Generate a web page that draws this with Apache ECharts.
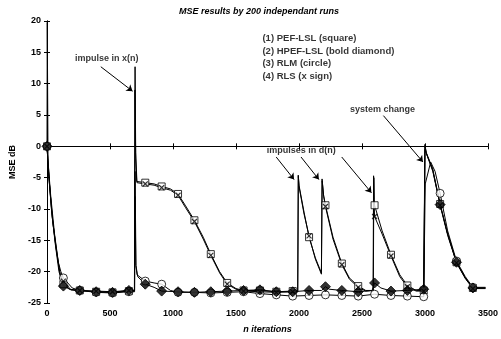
<!DOCTYPE html>
<html>
<head>
<meta charset="utf-8">
<script src="https://cdn.jsdelivr.net/npm/echarts@6/dist/echarts.min.js"></script>
<style>html,body{margin:0;padding:0;background:#fff}#chart{width:501px;height:339px}</style>
</head>
<body>
<div id="chart"></div>
<script>
// iterations where markers are drawn
var markIter = [0,130,260,390,520,650,780,910,1040,1170,1300,1430,1560,1690,1820,1950,2080,2210,2340,2470,2600,2730,2860,2990,3120,3250,3380];

// MSE (dB) at the marker iterations
var pefMark  = [0,-22,-23,-23.2,-23.3,-23.1,-5.8,-6.4,-7.6,-11.8,-17.2,-21.8,-23,-23,-23.2,-23.1,-14.5,-9.4,-18.7,-22.3,-9.4,-17.3,-22.2,-23,-9.2,-18.5,-22.6];
var hpefMark = [0,-22.3,-23,-23.2,-23.3,-23,-22,-23.1,-23.2,-23.3,-23.2,-23.1,-23,-22.9,-23.2,-23.2,-23,-22.4,-23,-23.2,-21.8,-23.1,-23,-22.8,-9.3,-18.5,-22.6];
var rlmMark  = [0,-21,-23,-23.3,-23.4,-23.2,-21.5,-22,-23.3,-23.3,-23.4,-23.3,-23.2,-23.5,-23.7,-23.9,-23.8,-23.7,-23.8,-23.9,-23.6,-23.8,-23.9,-24,-7.5,-18.3,-22.5];
var rlsMark  = [0,-21.5,-23,-23.1,-23.2,-23,-6,-6.6,-7.8,-12,-17.4,-22,-23.1,-23.2,-23.3,-23.2,-14.3,-9.6,-18.9,-22.5,-11.2,-17.5,-22.4,-23.1,-9.4,-18.6,-22.7];

// extra curve points between markers [iteration, dB]
var pefKnots = [[15,-5],[40,-11],[70,-16],[100,-20],[180,-22.8],[694,-23.1],[698,9],[704,-2],[712,-5.6],[850,-6],[980,-6.8],[1100,-9.5],[1240,-14.5],[1370,-20],[1500,-22.7],
  [1990,-23.1],[1994,-4.6],[2000,-6.2],[2040,-10.5],[2130,-17.8],[2178,-20.2],[2183,-5.2],[2195,-7.8],[2270,-14.5],[2400,-21],[2530,-23],[2588,-23],[2592,-4.7],[2596,-8.5],
  [2660,-13.5],[2800,-20.5],[2930,-23],[2996,-23],[2999,0.3],[3010,-1],[3060,-3.5],[3180,-14],[3320,-21],[3480,-22.6]];
var hpefKnots = [[12,-4],[35,-10],[65,-15.5],[95,-20],[190,-22.9],[695,-23],[699,-4],[706,-19],[720,-20.8],[850,-22.5],[2180,-23],[2240,-22.8],[2580,-23],[2650,-22.6],
  [2996,-22.8],[3000,-0.5],[3012,-1.2],[3062,-4],[3180,-14],[3320,-21],[3480,-22.6]];
var rlmKnots = [[10,-3],[30,-8],[60,-14],[90,-18.5],[110,-20],[200,-22.6],[695,-23.2],[699,-8],[705,-19],[715,-20.5],[850,-21.8],[980,-23],
  [2996,-24],[3002,-6],[3045,-2.5],[3080,-4],[3180,-13.5],[3320,-20.8],[3480,-22.5]];
var rlsKnots = [[2,19.8],[8,-2],[20,-6],[45,-12],[75,-16.5],[105,-20.5],[190,-22.9],[694,-23],[699,12.7],[704,-1],[714,-5.8],[850,-6.2],[980,-7],[1100,-9.8],[1240,-14.8],[1370,-20.2],[1500,-22.8],
  [1990,-23.2],[1995,-4.8],[2001,-6.5],[2040,-10.8],[2130,-18],[2178,-20.4],[2184,-5.5],[2196,-8],[2270,-14.8],[2400,-21.2],[2530,-23.1],[2590,-23],[2594,-5],[2597,-9.5],
  [2660,-14],[2800,-20.8],[2930,-23.1],[2995,-23.1],[3000,0],[3012,-1.2],[3062,-3.8],[3180,-14.2],[3320,-21.1],[3480,-22.7]];

var legendLines = ['(1) PEF-LSL (square)', '(2) HPEF-LSL (bold diamond)', '(3) RLM (circle)', '(4) RLS (x sign)'];
var legendAt = [[1710,17.3],[1710,15.2],[1710,13.2],[1710,11.2]];
var notes = [[474,14,'impulse in x(n)'],[2017,-0.7,'impulses in d(n)'],[2662,5.8,'system change']];
var arrows = [[[427,12.7],[679,8.8]],[[1819,-1.7],[1961,-5.3]],[[2016,-1.7],[2158,-5.3]],[[2339,-1.7],[2575,-7.4]],[[2670,4.9],[2984,-2.5]]];

function markPoints(marks) {
    return markIter.map(function (n, i) { return [n, marks[i]]; });
}
function curve(marks, knots) {
    var pts = markPoints(marks).concat(knots);
    pts.sort(function (a, b) { return a[0] - b[0]; });
    return pts;
}
function lineSeries(marks, knots) {
    return { type: 'line', data: curve(marks, knots), showSymbol: false, symbol: 'none',
        lineStyle: { color: '#000', width: 1 }, animation: false, z: 2 };
}
function markSeries(marks, symbol, size, style) {
    return { type: 'scatter', data: markPoints(marks), symbol: symbol, symbolSize: size,
        itemStyle: style, animation: false, z: 3 };
}

var font = 'Liberation Sans';
var chart = echarts.init(document.getElementById('chart'));
var axisCommon = {
    type: 'value',
    axisLine: { show: true, lineStyle: { color: '#000', width: 1 } },
    axisTick: { show: true, inside: true, length: 3, lineStyle: { color: '#000' } },
    splitLine: { show: false }
};

var option = {
    backgroundColor: '#fff',
    textStyle: { fontFamily: font },
    title: {
        text: 'MSE results by 200 independant runs',
        left: 174, top: 2,
        textStyle: { fontSize: 9, fontWeight: 'bold', fontStyle: 'italic', color: '#000', fontFamily: font }
    },
    grid: { left: 46, right: 10, top: 21, bottom: 31 },
    xAxis: [
        Object.assign({}, axisCommon, {
            min: 0, max: 3500, interval: 500, position: 'bottom',
            name: 'n iterations', nameLocation: 'middle', nameGap: 22,
            nameTextStyle: { fontSize: 9, fontWeight: 'bold', fontStyle: 'italic', color: '#000' },
            axisLabel: { fontSize: 9, fontWeight: 'bold', color: '#000', margin: 6,
                formatter: function (v) { return String(v); } }
        }),
        Object.assign({}, axisCommon, {
            min: 0, max: 3500, interval: 500, position: 'top', axisLabel: { show: false }
        })
    ],
    yAxis: [
        Object.assign({}, axisCommon, {
            min: -25, max: 20, interval: 5, position: 'left',
            name: 'MSE dB', nameLocation: 'middle', nameGap: 30,
            nameTextStyle: { fontSize: 9, fontWeight: 'bold', color: '#000' },
            axisLabel: { fontSize: 9, fontWeight: 'bold', color: '#000', margin: 6 }
        }),
        Object.assign({}, axisCommon, {
            min: -25, max: 20, interval: 5, position: 'right', axisLabel: { show: false }
        })
    ],
    series: [
        lineSeries(pefMark, pefKnots),
        lineSeries(hpefMark, hpefKnots),
        lineSeries(rlmMark, rlmKnots),
        lineSeries(rlsMark, rlsKnots),
        markSeries(pefMark, 'rect', 7, { color: '#fff', borderColor: '#000', borderWidth: 1 }),
        markSeries(rlmMark, 'circle', 8, { color: '#fff', borderColor: '#000', borderWidth: 1 }),
        markSeries(hpefMark, 'diamond', 10, { color: '#000', borderColor: '#000', borderWidth: 1 }),
        markSeries(rlsMark, 'path://M0,0L10,10M10,0L0,10', 5, { color: 'none', borderColor: '#000', borderWidth: 1.2 }),
        {
            type: 'lines', coordinateSystem: 'cartesian2d', animation: false, z: 4,
            symbol: ['none', 'arrow'], symbolSize: 6,
            lineStyle: { color: '#000', width: 1, opacity: 1 },
            data: arrows.map(function (c) { return { coords: c }; })
        },
        {
            type: 'scatter', symbolSize: 0, animation: false, z: 5,
            data: notes.map(function (d) { return { value: [d[0], d[1]], name: d[2] }; }),
            label: { show: true, position: 'inside', align: 'center', verticalAlign: 'middle',
                formatter: '{b}', fontSize: 9, fontWeight: 'bold', color: '#000', fontFamily: font }
        },
        {
            type: 'scatter', symbolSize: 0, animation: false, z: 5,
            data: legendAt.map(function (p, i) { return { value: p, name: legendLines[i] }; }),
            label: { show: true, position: 'inside', align: 'left', verticalAlign: 'middle',
                formatter: '{b}', fontSize: 9.5, fontWeight: 'bold', color: '#000', fontFamily: font }
        }
    ]
};
chart.setOption(option);
</script>
</body>
</html>
